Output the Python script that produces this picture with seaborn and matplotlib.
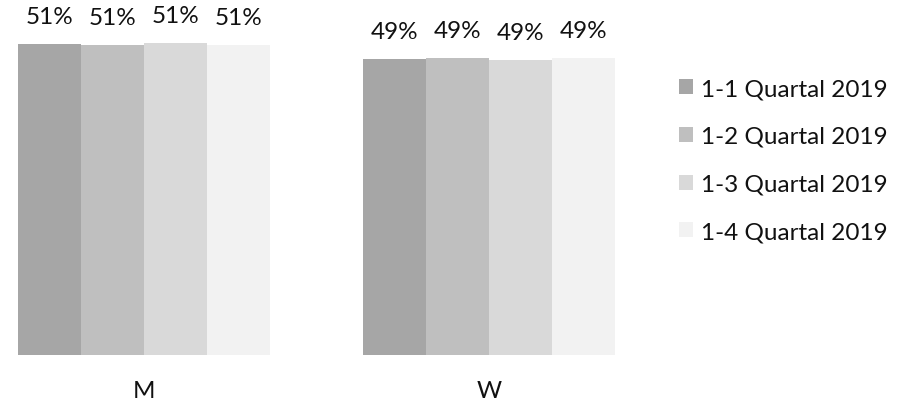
import pandas as pd
import seaborn as sns
import matplotlib.pyplot as plt

# Daten
geschlecht = ['M', 'W']
quartale = ['1-1 Quartal 2019', '1-2 Quartal 2019', '1-3 Quartal 2019', '1-4 Quartal 2019']
werte_m = [51.2, 51.1, 51.4, 51.1]
werte_w = [48.8, 48.9, 48.6, 48.9]
farben = ['#A6A6A6', '#BFBFBF', '#D9D9D9', '#F2F2F2']

rows = []
for q, m, w in zip(quartale, werte_m, werte_w):
    rows.append({'Geschlecht': 'M', 'Quartal': q, 'Anteil': m})
    rows.append({'Geschlecht': 'W', 'Quartal': q, 'Anteil': w})
df = pd.DataFrame(rows)

sns.set_style('white')
plt.rcParams['font.family'] = ['Lato', 'DejaVu Sans']
fs = 17.5

fig = plt.figure(figsize=(9.08, 4.06), dpi=100)
ax = fig.add_axes([0, 0.123, 0.7, 0.877])
sns.barplot(data=df, x='Geschlecht', y='Anteil', hue='Quartal', order=geschlecht,
            hue_order=quartale, palette=farben, width=0.73, saturation=1,
            linewidth=0, ax=ax)

# Prozent-Beschriftung ueber den Balken
for cont in ax.containers:
    ax.bar_label(cont, labels=[f"{round(b.get_height())}%" for b in cont],
                 padding=12, fontsize=fs, color='#111111')

ax.set_ylim(0, 58.6)
ax.set_xlim(-0.417, 1.425)
ax.set_xlabel('')
ax.set_ylabel('')
ax.set_yticks([])
ax.tick_params(axis='x', length=0, pad=18, labelsize=fs, labelcolor='#111111')
sns.despine(ax=ax, left=True, bottom=True, top=True, right=True)

handles, labels = ax.get_legend_handles_labels()
ax.legend_.remove()
fig.legend(handles, labels, loc='upper left', bbox_to_anchor=(0.748, 0.805),
           frameon=False, fontsize=fs, handlelength=0.58, handleheight=0.58,
           handletextpad=0.33, labelspacing=1.10, borderpad=0, borderaxespad=0,
           labelcolor='#111111')

fig.savefig('out.png', dpi=100)
